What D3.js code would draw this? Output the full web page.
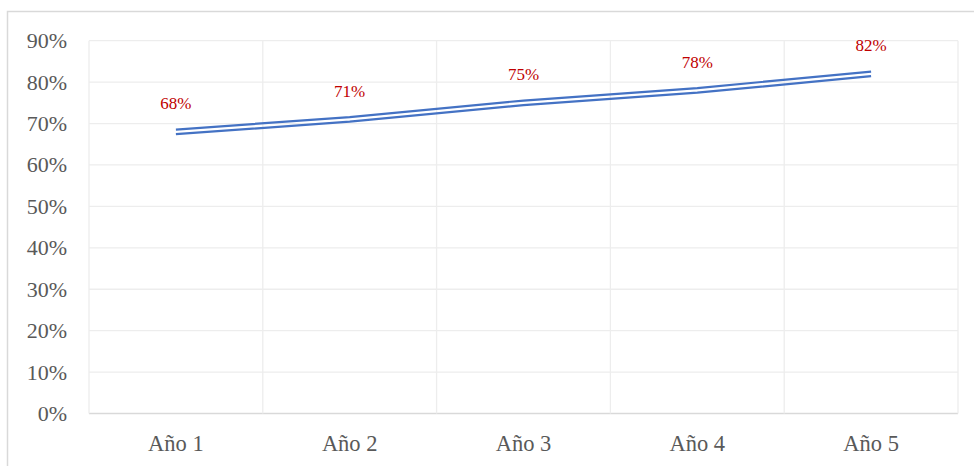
<!DOCTYPE html>
<html>
<head>
<meta charset="utf-8">
<script src="https://cdn.jsdelivr.net/npm/d3@7"></script>
<style>
  html, body { margin: 0; padding: 0; background: #fff; }
  svg { display: block; }
</style>
</head>
<body>
<svg id="chart" width="974" height="466"></svg>
<script>
// Categories and series values (percent)
const categories = ["Año 1", "Año 2", "Año 3", "Año 4", "Año 5"];
const values = [68, 71, 75, 78, 82];
const yTicks = [0, 10, 20, 30, 40, 50, 60, 70, 80, 90];

const W = 974, H = 466;
const plot = { left: 89, top: 40.7, right: 958, bottom: 413.5 };
const serif = "'Liberation Serif', 'Times New Roman', Times, serif";

const svg = d3.select("#chart");

// Chart frame
svg.append("rect")
  .attr("x", 7.5).attr("y", 11.5)
  .attr("width", W + 10).attr("height", H + 10)
  .attr("fill", "#fff")
  .attr("stroke", "#D9D9D9")
  .attr("stroke-width", 1.5);

const x = d3.scaleBand().domain(categories).range([plot.left, plot.right]).padding(0);
const y = d3.scaleLinear().domain([0, 90]).range([plot.bottom, plot.top]);

// Horizontal gridlines
svg.append("g")
  .selectAll("line")
  .data(yTicks)
  .join("line")
  .attr("x1", plot.left).attr("x2", plot.right)
  .attr("y1", d => y(d)).attr("y2", d => y(d))
  .attr("stroke", d => d === 0 ? "#D9D9D9" : "#EDEDED")
  .attr("stroke-width", 1.3);

// Vertical gridlines at category boundaries
const bounds = categories.map(c => x(c)).concat([x(categories[categories.length - 1]) + x.bandwidth()]);
svg.append("g")
  .selectAll("line")
  .data(bounds)
  .join("line")
  .attr("x1", d => d).attr("x2", d => d)
  .attr("y1", plot.top).attr("y2", plot.bottom)
  .attr("stroke", "#EDEDED")
  .attr("stroke-width", 1.3);

// Y axis labels
svg.append("g")
  .selectAll("text")
  .data(yTicks)
  .join("text")
  .attr("x", 67)
  .attr("y", d => y(d))
  .attr("dy", "0.34em")
  .attr("text-anchor", "end")
  .attr("font-family", serif)
  .attr("font-size", 22)
  .attr("fill", "#595959")
  .text(d => d + "%");

// X axis labels
svg.append("g")
  .selectAll("text")
  .data(categories)
  .join("text")
  .attr("x", d => x(d) + x.bandwidth() / 2)
  .attr("y", 450.5)
  .attr("text-anchor", "middle")
  .attr("font-family", serif)
  .attr("font-size", 22.5)
  .attr("fill", "#595959")
  .text(d => d);

// Double-stroke series line
const line = d3.line()
  .x((d, i) => x(categories[i]) + x.bandwidth() / 2)
  .y(d => y(d));

[-2.3, 2.3].forEach(off => {
  svg.append("path")
    .datum(values)
    .attr("transform", `translate(0,${off})`)
    .attr("d", line)
    .attr("fill", "none")
    .attr("stroke", "#4472C4")
    .attr("stroke-width", 2.2);
});

// Data labels
svg.append("g")
  .selectAll("text")
  .data(values)
  .join("text")
  .attr("x", (d, i) => x(categories[i]) + x.bandwidth() / 2)
  .attr("y", d => y(d) - 22.5)
  .attr("text-anchor", "middle")
  .attr("font-family", serif)
  .attr("font-size", 17)
  .attr("fill", "#C00000")
  .text(d => d + "%");
</script>
</body>
</html>
